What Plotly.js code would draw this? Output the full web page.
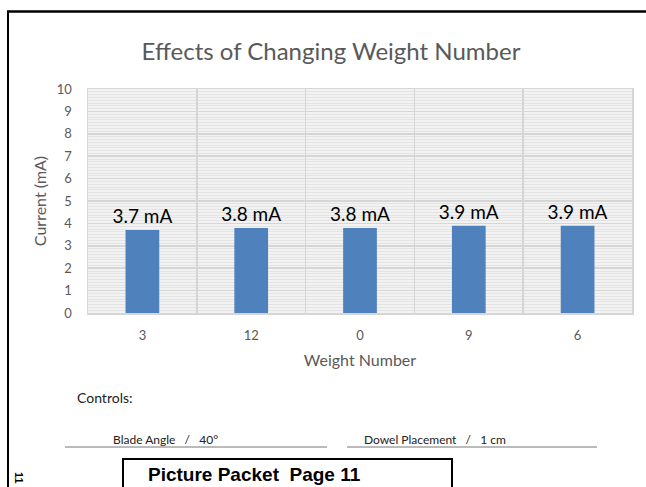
<!DOCTYPE html>
<html>
<head>
<meta charset="utf-8">
<script src="https://cdn.plot.ly/plotly-3.0.1.min.js"></script>
<style>html,body{margin:0;padding:0;background:#fff;}#chart{width:646px;height:487px;}</style>
</head>
<body>
<div id="chart"></div>
<script>
// Data
const weightNumbers = ["3", "12", "0", "9", "6"];
const currentValues = [3.7, 3.8, 3.8, 3.9, 3.9];
const yTicks = [0, 1, 2, 3, 4, 5, 6, 7, 8, 9, 10];

const chartTitle = "Effects of Changing Weight Number";
const xTitle = "Weight Number";
const yTitle = "Current (mA)";
const controlsLabel = "Controls:";
const control1 = "Blade Angle &nbsp;&nbsp;/ &nbsp;&nbsp;40°";
const control2 = "Dowel Placement &nbsp;&nbsp;/ &nbsp;&nbsp;1 cm";
const boxText = "Picture Packet  Page 11";

// pixel -> paper helpers (plot area 88..632 x 89..313)
const L = 88, R = 632, T = 89, B = 313;
const px = x => (x - L) / (R - L);
const py = y => (B - y) / (B - T);

const FONT = "Lato";

const labelFont = {family: FONT, size: 19, color: "#000"};
const trace = {
  type: "bar",
  x: weightNumbers,
  y: currentValues,
  width: 0.31,
  marker: {color: "#4f81bd"},
  texttemplate: "%{y} mA",
  textposition: "outside",
  constraintext: "none",
  textfont: labelFont,
  outsidetextfont: labelFont,
  cliponaxis: false,
  hoverinfo: "x+y"
};

const gridC = "#d6d6d6";
const layout = {
  width: 646, height: 487,
  margin: {l: L, r: 646 - R, t: T, b: 487 - B},
  paper_bgcolor: "#fff",
  plot_bgcolor: "#f2f2f2",
  showlegend: false,
  font: {family: FONT, color: "#595959"},
  title: {text: chartTitle, font: {family: FONT, size: 24, color: "#595959"},
          x: px(331), xref: "paper", xanchor: "center", y: 1 - 52/487, yanchor: "middle"},
  xaxis: {
    type: "category",
    tickson: "boundaries",
    showgrid: true, gridcolor: gridC, gridwidth: 1.5,
    showline: true, linecolor: gridC, linewidth: 1.5, mirror: true,
    ticks: "", ticklabelstandoff: 10,
    tickfont: {family: FONT, size: 13, color: "#595959"},
    title: {text: xTitle, font: {family: FONT, size: 16, color: "#595959"}, standoff: 12},
    fixedrange: true
  },
  yaxis: {
    range: [0, 10],
    tickvals: yTicks,
    showgrid: true, gridcolor: gridC, gridwidth: 1.5,
    minor: {dtick: 0.125, showgrid: true, gridcolor: "#e4e4e4", gridwidth: 1, ticks: ""},
    zeroline: false,
    showline: true, linecolor: gridC, linewidth: 1.5, mirror: true,
    ticks: "", ticklabelstandoff: 12,
    tickfont: {family: FONT, size: 13, color: "#595959"},
    title: {text: yTitle, font: {family: FONT, size: 16, color: "#595959"}, standoff: 6},
    fixedrange: true
  },
  shapes: [
    // outer frame (top + left)
    {type: "line", xref: "paper", yref: "paper", x0: px(7), x1: px(646), y0: py(11.5), y1: py(11.5), line: {color: "#000", width: 2.5}},
    {type: "line", xref: "paper", yref: "paper", x0: px(8), x1: px(8), y0: py(11), y1: py(487), line: {color: "#000", width: 2}},
    // control underlines
    {type: "line", xref: "paper", yref: "paper", x0: px(65), x1: px(327), y0: py(447), y1: py(447), line: {color: "#777", width: 1}},
    {type: "line", xref: "paper", yref: "paper", x0: px(347), x1: px(597), y0: py(447), y1: py(447), line: {color: "#777", width: 1}},
    // picture packet box
    {type: "rect", xref: "paper", yref: "paper", x0: px(123), x1: px(452), y0: py(459), y1: py(495), line: {color: "#000", width: 2}, fillcolor: "rgba(0,0,0,0)"}
  ],
  annotations: [
    {text: controlsLabel, xref: "paper", yref: "paper", x: px(75), y: py(397), xanchor: "left", yanchor: "middle", showarrow: false,
     font: {family: FONT, size: 14, color: "#222"}},
    {text: control1, xref: "paper", yref: "paper", x: px(111), y: py(439), xanchor: "left", yanchor: "middle", showarrow: false,
     font: {family: FONT, size: 12, color: "#222"}},
    {text: control2, xref: "paper", yref: "paper", x: px(362), y: py(439), xanchor: "left", yanchor: "middle", showarrow: false,
     font: {family: FONT, size: 12, color: "#222"}},
    {text: "<b>" + boxText + "</b>", xref: "paper", yref: "paper", x: px(146), y: py(487), xanchor: "left", yanchor: "bottom", showarrow: false,
     font: {family: "Liberation Sans, Arial, sans-serif", size: 19, color: "#000"}},
    {text: "<b>11</b>", xref: "paper", yref: "paper", x: px(19), y: py(478), xanchor: "center", yanchor: "middle", showarrow: false, textangle: 90,
     font: {family: "Liberation Sans, Arial, sans-serif", size: 11, color: "#000"}}
  ]
};

Plotly.newPlot("chart", [trace], layout, {displayModeBar: false, staticPlot: true});
</script>
</body>
</html>
